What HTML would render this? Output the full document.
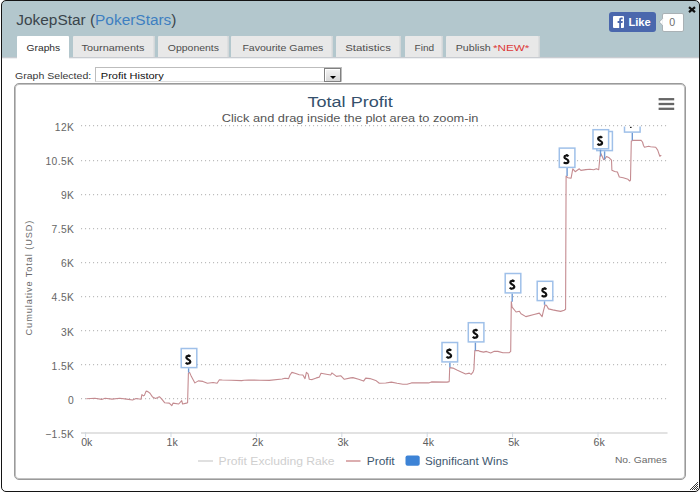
<!DOCTYPE html>
<html><head><meta charset="utf-8">
<style>
html,body{margin:0;padding:0;width:700px;height:492px;overflow:hidden;background:#fff;}
body{position:relative;font-family:"Liberation Sans",sans-serif;}
div{position:absolute;}
.win{left:1px;top:0;width:697px;height:490px;border:1px solid #141414;border-radius:5px;background:linear-gradient(#b3c7cd 0,#b3c7cd 56px,#c9ccd1 56px,#c9ccd1 57px,#eef0f2 57px,#eef0f2 58px,#fff 58px);}
.hdr{left:2px;top:1px;width:697px;height:56px;background:#b3c7cd;border-radius:4px 4px 0 0;}
.hline{left:2px;top:57px;width:697px;height:1px;background:#e2e6e8;}
.tab{top:36px;height:21px;background:#e8e8e8;border-radius:1px 1px 0 0;box-shadow:inset -1.5px 0 0 #d3d7d9;}
.tab.act{background:#fff;height:23px;box-shadow:none;}
.fb{left:609px;top:12px;width:47px;height:20px;background:#4a67ad;border-radius:3px;}
.fbf{left:3.7px;top:4px;width:11.2px;height:11.8px;background:#fff;border-radius:1px;overflow:hidden;}
.cnt{left:662px;top:12.6px;width:21.6px;height:19px;background:#fff;border:1px solid #a9b1b5;border-radius:2px;box-sizing:border-box;}
.sel{left:95px;top:67px;width:247px;height:15px;border:1px solid #bdbdbd;border-bottom:1px solid #dcdcdc;box-sizing:border-box;background:#fff;}
.btn{right:0;top:0px;width:17px;height:14px;box-sizing:border-box;border:1px solid #808080;background:linear-gradient(#f4f4f4,#d8d8d8);box-shadow:inset 1px 1px 0 #fff;}
.btn i{position:absolute;left:4.9px;top:7px;width:0;height:0;border-left:3.5px solid transparent;border-right:3.5px solid transparent;border-top:3.6px solid #000;}
.box{left:14px;top:83px;width:670px;height:395px;border:1px solid #9a9a9a;box-shadow:inset 0 0 0 1px #c2c2c2;border-radius:5px;}
svg{position:absolute;left:0;top:0;}
text{font-family:"Liberation Sans",sans-serif;}
.tt{font-size:9.8px;fill:#4e4e4e;}
.tt.at{fill:#2c2c2c;}
.yl{font-size:10.3px;letter-spacing:0.35px;fill:#666;}
.xl{font-size:10.6px;fill:#5e5e5e;}
.yt{font-size:9.2px;letter-spacing:0.9px;fill:#6a6a6a;}
.ti{font-size:15.4px;fill:#34506c;}
.st{font-size:11.6px;fill:#555;}
.lg{font-size:11.6px;}
.ng{font-size:9.6px;fill:#6a6a6a;}
.fl{font-size:10.8px;font-weight:bold;fill:#111;}
</style></head><body>
<div class="win"></div>
<div class="tab act" style="left:17px;width:51.5px;"></div>
<div class="tab" style="left:72.8px;width:82.2px;"></div>
<div class="tab" style="left:157.7px;width:71.3px;"></div>
<div class="tab" style="left:231.4px;width:101.3px;"></div>
<div class="tab" style="left:336px;width:65.0px;"></div>
<div class="tab" style="left:405px;width:37.5px;"></div>
<div class="tab" style="left:446.3px;width:93.5px;"></div>
<div class="fb"><div class="fbf"><svg width="12" height="12" viewBox="0 0 12 12"><path d="M6.2 12 V7 H4.6 V5.1 H6.2 V3.8 C6.2 2.3 7.1 1.6 8.4 1.6 C9 1.6 9.5 1.65 9.7 1.7 V3.3 H8.8 C8.1 3.3 8 3.6 8 4.1 V5.1 H9.8 L9.5 7 H8 V12 Z" fill="#4a67ad"/></svg></div></div>
<div class="cnt"></div>
<div class="sel"><div class="btn"><i></i></div></div>
<div class="box"></div>
<svg width="700" height="492" viewBox="0 0 700 492">
<text x="16.3" y="24.8" style="font-size:15.4px;fill:#3a444b" textLength="160.2" lengthAdjust="spacingAndGlyphs">JokepStar (<tspan style="fill:#3e7fc1">PokerStars</tspan>)</text>
<text x="26.6" y="50.9" class="tt at" textLength="33.6" lengthAdjust="spacingAndGlyphs">Graphs</text>
<text x="81.6" y="50.9" class="tt" textLength="62.8" lengthAdjust="spacingAndGlyphs">Tournaments</text>
<text x="167.8" y="50.9" class="tt" textLength="51.2" lengthAdjust="spacingAndGlyphs">Opponents</text>
<text x="242.4" y="50.9" class="tt" textLength="81" lengthAdjust="spacingAndGlyphs">Favourite Games</text>
<text x="345.2" y="50.9" class="tt" textLength="45.8" lengthAdjust="spacingAndGlyphs">Statistics</text>
<text x="414.6" y="50.9" class="tt" textLength="19.6" lengthAdjust="spacingAndGlyphs">Find</text>
<text x="455.7" y="50.9" class="tt" textLength="35" lengthAdjust="spacingAndGlyphs">Publish</text>
<text x="493" y="50.9" class="tt" fill="#dd3838" style="fill:#dd3838" textLength="36.4" lengthAdjust="spacingAndGlyphs">*NEW*</text>
<text x="628.4" y="26.1" style="font-size:11.2px;font-weight:bold;fill:#fff" textLength="22.4" lengthAdjust="spacingAndGlyphs">Like</text>
<text x="672.3" y="25.8" text-anchor="middle" style="font-size:10.6px;fill:#6e6e6e">0</text>
<path d="M689 7.2 L695 12.2 M695 7.2 L689 12.2" stroke="#111" stroke-width="2.2"/>
<path d="M662.6 18.6 L659.2 22 L662.6 25.3" fill="#fff" stroke="#a9b1b5" stroke-width="1"/><rect x="662.5" y="18.9" width="1.6" height="6.1" fill="#fff"/>
<text x="15" y="78.5" style="font-size:9px;fill:#383838" textLength="76.2" lengthAdjust="spacingAndGlyphs">Graph Selected:</text>
<text x="100.8" y="78.5" style="font-size:9px;fill:#111" textLength="63" lengthAdjust="spacingAndGlyphs">Profit History</text>
<defs><g id="dol"><path d="M5.7 2.3 C4.9 1.1 1.7 1.1 1.7 3.2 C1.7 5.3 5.7 4.8 5.7 7.2 C5.7 9.5 2.3 9.6 1.1 8.2" stroke="#111" stroke-width="2.2" fill="none"/><path d="M4.2 0.1 V1.6 M2.6 8.9 V10.1" stroke="#111" stroke-width="1.4"/></g><clipPath id="pc"><rect x="81" y="126.6" width="587" height="307"/></clipPath></defs>
<line x1="81" y1="125.60" x2="668" y2="125.60" stroke="#bdbdbd" stroke-width="1.2" stroke-dasharray="1.1,2.9"/>
<line x1="81" y1="160.60" x2="668" y2="160.60" stroke="#bdbdbd" stroke-width="1.2" stroke-dasharray="1.1,2.9"/>
<line x1="81" y1="194.60" x2="668" y2="194.60" stroke="#bdbdbd" stroke-width="1.2" stroke-dasharray="1.1,2.9"/>
<line x1="81" y1="228.60" x2="668" y2="228.60" stroke="#bdbdbd" stroke-width="1.2" stroke-dasharray="1.1,2.9"/>
<line x1="81" y1="262.60" x2="668" y2="262.60" stroke="#bdbdbd" stroke-width="1.2" stroke-dasharray="1.1,2.9"/>
<line x1="81" y1="296.60" x2="668" y2="296.60" stroke="#bdbdbd" stroke-width="1.2" stroke-dasharray="1.1,2.9"/>
<line x1="81" y1="330.60" x2="668" y2="330.60" stroke="#bdbdbd" stroke-width="1.2" stroke-dasharray="1.1,2.9"/>
<line x1="81" y1="364.60" x2="668" y2="364.60" stroke="#bdbdbd" stroke-width="1.2" stroke-dasharray="1.1,2.9"/>
<line x1="81" y1="398.60" x2="668" y2="398.60" stroke="#bdbdbd" stroke-width="1.2" stroke-dasharray="1.1,2.9"/>
<line x1="81" y1="433" x2="667.5" y2="433" stroke="#d8d8d8" stroke-width="1.6"/>
<line x1="85.6" y1="432" x2="85.6" y2="437" stroke="#d0d8e0" stroke-width="1"/>
<line x1="171.0" y1="432" x2="171.0" y2="437" stroke="#d0d8e0" stroke-width="1"/>
<line x1="256.4" y1="432" x2="256.4" y2="437" stroke="#d0d8e0" stroke-width="1"/>
<line x1="341.8" y1="432" x2="341.8" y2="437" stroke="#d0d8e0" stroke-width="1"/>
<line x1="427.2" y1="432" x2="427.2" y2="437" stroke="#d0d8e0" stroke-width="1"/>
<line x1="512.6" y1="432" x2="512.6" y2="437" stroke="#d0d8e0" stroke-width="1"/>
<line x1="598.0" y1="432" x2="598.0" y2="437" stroke="#d0d8e0" stroke-width="1"/>
<text x="74.2" y="130.8" text-anchor="end" class="yl">12K</text>
<text x="74.2" y="164.9" text-anchor="end" class="yl">10.5K</text>
<text x="74.2" y="199.0" text-anchor="end" class="yl">9K</text>
<text x="74.2" y="233.2" text-anchor="end" class="yl">7.5K</text>
<text x="74.2" y="267.3" text-anchor="end" class="yl">6K</text>
<text x="74.2" y="301.4" text-anchor="end" class="yl">4.5K</text>
<text x="74.2" y="335.5" text-anchor="end" class="yl">3K</text>
<text x="74.2" y="369.6" text-anchor="end" class="yl">1.5K</text>
<text x="74.2" y="403.8" text-anchor="end" class="yl">0</text>
<text x="74.2" y="437.9" text-anchor="end" class="yl">&#8722;1.5K</text>
<text x="86.8" y="445.8" text-anchor="middle" class="xl">0k</text>
<text x="172.2" y="445.8" text-anchor="middle" class="xl">1k</text>
<text x="257.6" y="445.8" text-anchor="middle" class="xl">2k</text>
<text x="343.0" y="445.8" text-anchor="middle" class="xl">3k</text>
<text x="428.4" y="445.8" text-anchor="middle" class="xl">4k</text>
<text x="513.8" y="445.8" text-anchor="middle" class="xl">5k</text>
<text x="599.2" y="445.8" text-anchor="middle" class="xl">6k</text>
<text class="yt" transform="translate(31.9,277.6) rotate(-90)" text-anchor="middle">Cumulative Total (USD)</text>
<text x="307.5" y="107.2" class="ti" textLength="85.3" lengthAdjust="spacingAndGlyphs">Total Profit</text>
<text x="221.7" y="121.5" class="st" textLength="256.8" lengthAdjust="spacingAndGlyphs">Click and drag inside the plot area to zoom-in</text>
<line x1="658.6" y1="99.2" x2="674.2" y2="99.2" stroke="#666" stroke-width="2.3" stroke-linecap="butt"/>
<line x1="658.6" y1="104.0" x2="674.2" y2="104.0" stroke="#666" stroke-width="2.3" stroke-linecap="butt"/>
<line x1="658.6" y1="108.8" x2="674.2" y2="108.8" stroke="#666" stroke-width="2.3" stroke-linecap="butt"/>
<g clip-path="url(#pc)">
<path d="M86.3,398.7 L94.9,398.3 L101.7,399.4 L105.1,398.3 L112.0,399.1 L119.7,398.3 L126.6,399.1 L132.6,400.0 L136.0,398.5 L141.0,399.3 L141.9,394.6 L143.6,395.9 L144.4,395.4 L146.1,391.1 L147.9,391.6 L150.0,393.3 L152.6,397.1 L155.6,398.4 L157.7,397.6 L159.4,396.7 L161.6,398.9 L164.6,402.7 L169.3,403.1 L171.8,405.7 L173.1,403.1 L178.7,404.0 L181.7,400.6 L182.6,404.0 L186.4,403.1 L187.6,402.8 L188.4,373.1 L189.7,372.6 L191.4,376.6 L194.9,382.9 L198.3,380.9 L202.9,381.4 L207.4,383.2 L213.1,382.5 L217.1,383.2 L219.4,379.8 L222.3,380.0 L231.4,380.2 L241.7,380.6 L244.0,380.2 L248.6,380.0 L260.0,380.2 L269.3,380.4 L282.1,379.0 L285.0,378.3 L288.6,378.6 L290.0,375.0 L291.9,372.4 L295.0,373.3 L299.3,374.7 L302.9,375.0 L305.0,378.6 L306.4,372.4 L308.1,373.9 L309.3,379.3 L312.1,379.6 L316.4,377.9 L319.3,377.1 L321.0,373.3 L326.4,374.3 L330.7,375.0 L331.9,372.9 L336.4,376.4 L340.7,375.7 L344.3,379.3 L350.7,377.9 L352.9,377.6 L358.6,379.3 L363.6,381.1 L365.7,378.1 L370.0,378.6 L375.7,380.4 L379.3,383.3 L385.7,383.0 L391.4,382.1 L397.1,383.3 L402.9,384.3 L407.1,384.3 L411.4,382.9 L421.4,382.9 L428.6,382.9 L431.4,381.9 L447.1,382.1 L449.2,381.6 L449.7,367.6 L452.9,368.1 L457.4,370.3 L465.6,374.0 L469.3,373.1 L471.1,374.4 L473.0,372.2 L473.9,369.4 L474.8,350.6 L478.4,350.6 L480.0,351.4 L483.6,352.1 L486.4,351.4 L490.7,352.9 L494.3,351.3 L497.9,351.4 L502.9,352.7 L509.3,352.7 L510.7,351.4 L511.3,301.5 L512.1,307.2 L516.1,312.0 L519.4,311.2 L521.0,313.7 L525.9,316.6 L534.0,314.5 L539.3,313.1 L542.1,316.7 L543.5,310.6 L545.0,305.0 L546.4,305.3 L548.5,308.9 L552.8,309.9 L556.4,310.6 L560.6,311.4 L564.2,310.3 L565.6,309.2 L566.1,176.1 L567.9,177.7 L571.1,178.2 L572.8,168.8 L575.2,171.7 L579.3,168.8 L580.9,170.4 L585.8,169.6 L590.0,169.3 L593.7,169.7 L596.4,168.8 L598.7,169.7 L600.0,156.5 L601.0,153.7 L603.7,159.7 L605.1,158.7 L606.5,156.5 L609.2,157.8 L611.5,160.1 L611.9,170.2 L614.7,171.5 L617.4,172.0 L619.3,177.0 L623.2,177.7 L628.0,179.3 L629.7,181.0 L630.5,180.2 L631.3,141.0 L632.8,140.4 L640.9,140.2 L642.5,142.0 L643.5,145.5 L644.5,147.3 L648.6,146.3 L650.6,146.7 L655.7,147.3 L657.7,150.1 L659.8,156.2 L661.3,155.2" fill="none" stroke="#c48b90" stroke-width="1.1" stroke-linejoin="round"/>
<line x1="188.6" y1="368.3" x2="188.6" y2="372.6" stroke="#6f9ad4" stroke-width="1.4"/>
<rect x="181.2" y="348.5" width="15.6" height="19.1" fill="#fff" stroke="#9fc0e9" stroke-width="1.5"/>
<use href="#dol" x="184.6" y="354.4"/>
<line x1="449.9" y1="362.6" x2="449.9" y2="367.2" stroke="#6f9ad4" stroke-width="1.4"/>
<rect x="442.0" y="342.5" width="15.6" height="19.400000000000002" fill="#fff" stroke="#9fc0e9" stroke-width="1.5"/>
<use href="#dol" x="445.4" y="348.4"/>
<line x1="475.4" y1="342.6" x2="475.4" y2="350.6" stroke="#6f9ad4" stroke-width="1.4"/>
<rect x="468.3" y="322.7" width="15.6" height="19.200000000000003" fill="#fff" stroke="#9fc0e9" stroke-width="1.5"/>
<use href="#dol" x="471.7" y="328.6"/>
<line x1="512.2" y1="293.6" x2="512.2" y2="301.8" stroke="#6f9ad4" stroke-width="1.4"/>
<rect x="505.2" y="273.5" width="15.6" height="19.400000000000002" fill="#fff" stroke="#9fc0e9" stroke-width="1.5"/>
<use href="#dol" x="508.6" y="279.4"/>
<line x1="544.5" y1="301.3" x2="544.5" y2="304.8" stroke="#6f9ad4" stroke-width="1.4"/>
<rect x="537.2" y="281.3" width="15.6" height="19.3" fill="#fff" stroke="#9fc0e9" stroke-width="1.5"/>
<use href="#dol" x="540.6" y="287.2"/>
<line x1="567.1" y1="168.1" x2="567.1" y2="176.1" stroke="#6f9ad4" stroke-width="1.4"/>
<rect x="559.3000000000001" y="148.1" width="15.6" height="19.3" fill="#fff" stroke="#9fc0e9" stroke-width="1.5"/>
<use href="#dol" x="562.7" y="154.0"/>
<line x1="604.6" y1="151.3" x2="604.6" y2="159.5" stroke="#6f9ad4" stroke-width="1.4"/>
<rect x="596.8000000000001" y="131.5" width="15.6" height="19.1" fill="#fff" stroke="#9fc0e9" stroke-width="1.5"/>
<use href="#dol" x="600.2" y="137.4"/>
<line x1="600.5" y1="149.5" x2="600.5" y2="156.6" stroke="#6f9ad4" stroke-width="1.4"/>
<rect x="593.0" y="129.7" width="15.6" height="19.1" fill="#fff" stroke="#9fc0e9" stroke-width="1.5"/>
<use href="#dol" x="596.4" y="135.6"/>
<line x1="632.3" y1="132.8" x2="632.3" y2="140.2" stroke="#6f9ad4" stroke-width="1.4"/>
<rect x="624.5" y="113.0" width="15.6" height="19.1" fill="#fff" stroke="#9fc0e9" stroke-width="1.5"/>
<rect x="630" y="126.6" width="1.6" height="1.4" fill="#222"/>
</g>
<line x1="198" y1="461" x2="213" y2="461" stroke="#d8d8d8" stroke-width="1.6"/>
<text x="218.6" y="465.2" class="lg" fill="#cfcfcf" textLength="116" lengthAdjust="spacingAndGlyphs">Profit Excluding Rake</text>
<line x1="346" y1="461" x2="360.5" y2="461" stroke="#d49a9c" stroke-width="1.6"/>
<text x="366.7" y="465.2" class="lg" fill="#3e576f" textLength="28" lengthAdjust="spacingAndGlyphs">Profit</text>
<rect x="405.5" y="455.6" width="14.2" height="10.1" rx="2" fill="#3d83d6"/>
<text x="425" y="465.2" class="lg" fill="#3e576f" textLength="83" lengthAdjust="spacingAndGlyphs">Significant Wins</text>
<text x="614.9" y="463.3" class="ng" textLength="51.9" lengthAdjust="spacingAndGlyphs">No. Games</text>
<path d="M697 482h1v1h-1zM696 483h1v1h-1zM695 484h1v1h-1zM697 484h1v1h-1zM694 485h1v1h-1zM696 485h1v1h-1zM693 486h1v1h-1zM695 486h1v1h-1zM697 486h1v1h-1zM692 487h1v1h-1zM694 487h1v1h-1zM696 487h1v1h-1zM691 488h1v1h-1zM693 488h1v1h-1zM695 488h1v1h-1zM697 488h1v1h-1zM690 489h1v1h-1zM692 489h1v1h-1zM694 489h1v1h-1zM696 489h1v1h-1z" fill="#3a3a3a"/>
</svg>
</body></html>
